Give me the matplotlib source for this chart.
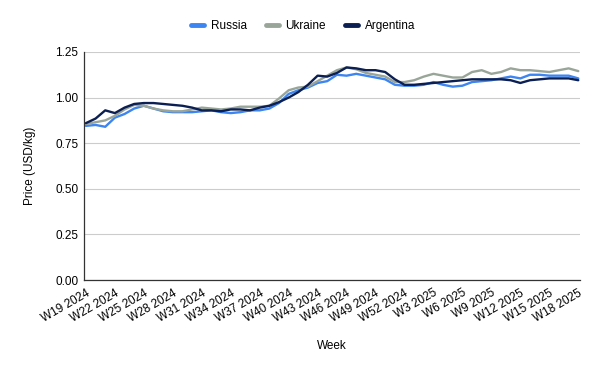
import matplotlib
matplotlib.use("Agg")
import matplotlib.pyplot as plt
import numpy as np

plt.rcParams['font.family'] = ['Liberation Sans', 'DejaVu Sans']

weeks = [f"W{w} 2024" for w in range(19, 53)] + [f"W{w} 2025" for w in range(1, 19)]

russia = [0.845, 0.85, 0.84, 0.89, 0.91, 0.94, 0.955, 0.94, 0.925, 0.92,
          0.92, 0.92, 0.925, 0.93, 0.92, 0.915, 0.92, 0.93, 0.93, 0.94,
          0.97, 1.02, 1.04, 1.055, 1.08, 1.09, 1.125, 1.12, 1.13, 1.12,
          1.11, 1.10, 1.07, 1.065, 1.065, 1.07, 1.085, 1.07, 1.06, 1.065,
          1.085, 1.09, 1.095, 1.105, 1.115, 1.105, 1.125, 1.125, 1.12, 1.12,
          1.12, 1.105]
ukraine = [0.855, 0.865, 0.875, 0.90, 0.935, 0.96, 0.955, 0.94, 0.93, 0.925,
           0.925, 0.935, 0.945, 0.94, 0.935, 0.94, 0.95, 0.95, 0.95, 0.955,
           0.995, 1.04, 1.055, 1.06, 1.09, 1.12, 1.15, 1.165, 1.155, 1.135,
           1.125, 1.115, 1.085, 1.085, 1.095, 1.115, 1.13, 1.12, 1.11, 1.11,
           1.14, 1.15, 1.13, 1.14, 1.16, 1.15, 1.15, 1.145, 1.14, 1.15,
           1.16, 1.145]
argentina = [0.86, 0.885, 0.93, 0.915, 0.945, 0.965, 0.97, 0.97, 0.965, 0.96,
             0.955, 0.945, 0.93, 0.93, 0.925, 0.935, 0.935, 0.93, 0.945, 0.955,
             0.975, 1.0, 1.03, 1.07, 1.12, 1.115, 1.135, 1.165, 1.16, 1.15,
             1.15, 1.14, 1.10, 1.07, 1.07, 1.075, 1.08, 1.085, 1.09, 1.095,
             1.10, 1.10, 1.10, 1.10, 1.095, 1.08, 1.095, 1.10, 1.105, 1.105,
             1.105, 1.095]

series_names = ["Russia", "Ukraine", "Argentina"]
colors = ["#3d85f0", "#9aa59a", "#0b1f52"]
y_ticks = [0.00, 0.25, 0.50, 0.75, 1.00, 1.25]

fig = plt.figure(figsize=(6.0, 3.71), dpi=100)
ax = fig.add_axes([0.14, 0.245, 0.827, 0.615])

x = np.arange(len(weeks))
for name, vals, c in zip(series_names, [russia, ukraine, argentina], colors):
    ax.plot(x, vals, color=c, lw=1.7, label=name, solid_joinstyle='round',
            solid_capstyle='round')

ax.set_xlim(x[0] - 0.2, x[-1] + 0.2)
ax.set_ylim(0, 1.25)
ax.set_yticks(y_ticks)
ax.set_yticklabels([f"{v:.2f}" for v in y_ticks], fontsize=8.5)
ax.yaxis.grid(True, color="#cccccc", lw=0.8)
ax.set_axisbelow(True)

tick_idx = x[::3]
ax.set_xticks(tick_idx)
ax.set_xticklabels([weeks[i] for i in tick_idx], rotation=30, ha='right',
                   rotation_mode='anchor', fontsize=8.5)
ax.tick_params(axis='x', length=0, pad=5)
ax.tick_params(axis='y', length=0, pad=4)

for s in ['top', 'right']:
    ax.spines[s].set_visible(False)
ax.spines['left'].set_color('#333333')
ax.spines['bottom'].set_color('#333333')
ax.spines['left'].set_linewidth(0.9)
ax.spines['bottom'].set_linewidth(0.9)

ax.set_xlabel("Week", fontsize=8.5, labelpad=11)
ax.set_ylabel("Price (USD/kg)", fontsize=8.5, labelpad=14)

leg = fig.legend(loc='center', bbox_to_anchor=(0.505, 0.93), ncol=3, frameon=False,
                 fontsize=8.5, handlelength=1.1, handletextpad=0.6, columnspacing=1.6)
for line in leg.get_lines():
    line.set_linewidth(3.5)

fig.savefig("out.png", dpi=100)
